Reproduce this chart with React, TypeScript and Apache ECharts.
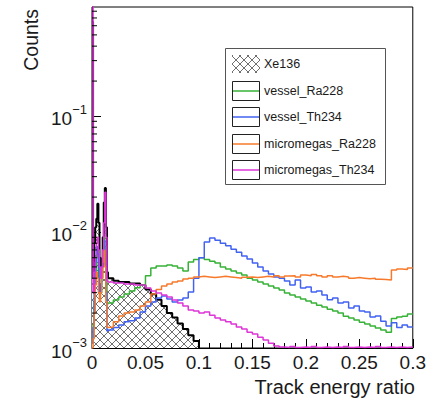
import React, { useEffect, useRef } from "react";
import * as echarts from "echarts";

// Left edges of the histogram bins (fine binning near zero, 0.005 beyond)
const binEdges = [
  0, 0.001, 0.002, 0.003, 0.004, 0.005, 0.006, 0.007, 0.008, 0.009, 0.01, 0.011, 0.012, 0.013, 0.014,
  0.015, 0.02, 0.025, 0.03, 0.035, 0.04, 0.045, 0.05, 0.055, 0.06, 0.065, 0.07, 0.075, 0.08, 0.085,
  0.09, 0.095, 0.1, 0.105, 0.11, 0.115, 0.12, 0.125, 0.13, 0.135, 0.14, 0.145, 0.15, 0.155, 0.16,
  0.165, 0.17, 0.175, 0.18, 0.185, 0.19, 0.195, 0.2, 0.205, 0.21, 0.215, 0.22, 0.225, 0.23, 0.235,
  0.24, 0.245, 0.25, 0.255, 0.26, 0.265, 0.27, 0.275, 0.28, 0.285, 0.29, 0.295,
];
const rangeEnd = 0.3;

const xe136 = [
  0.65, 0.004, 0.008, 0.011, 0.013, 0.0175, 0.012, 0.006, 0.0042, 0.005, 0.009, 0.018, 0.024, 0.011, 0.0045,
  0.004, 0.0038, 0.0037, 0.0037, 0.0036, 0.0036, 0.0035, 0.0032, 0.0029, 0.0026, 0.0023, 0.002, 0.00183,
  0.00163, 0.00146, 0.00129, 0.00115,
];
const xe136End = 0.1;
const xe136Empty = 0.0009;

const vesselRa228 = [
  0.0011, 0.0016, 0.0025, 0.004, 0.006, 0.0068, 0.005, 0.0035, 0.003, 0.004, 0.006, 0.009, 0.0075, 0.004, 0.0024,
  0.00244, 0.00259, 0.00275, 0.00292, 0.0031, 0.0033, 0.0035, 0.0042, 0.0049, 0.0051, 0.0051, 0.0052, 0.0051,
  0.0049, 0.0046, 0.0055, 0.0058, 0.006, 0.0058, 0.0056, 0.0054, 0.005, 0.0048, 0.0046, 0.00443, 0.00426,
  0.004, 0.00386, 0.00371, 0.00356, 0.00342, 0.00329, 0.00316, 0.00298, 0.00286, 0.00275, 0.00264, 0.00254,
  0.00244, 0.00234, 0.00226, 0.00216, 0.00208, 0.002, 0.00188, 0.00181, 0.00174, 0.00167, 0.00161, 0.00155,
  0.00149, 0.00143, 0.00137, 0.0018, 0.00185, 0.00188, 0.00196,
];

const vesselTh234 = [
  0.0011, 0.0015, 0.003, 0.0055, 0.0075, 0.0065, 0.004, 0.003, 0.0035, 0.005, 0.007, 0.0085, 0.006, 0.003, 0.0014,
  0.00143, 0.0015, 0.00158, 0.00168, 0.00172, 0.00181, 0.00204, 0.0023, 0.00249, 0.0027, 0.00281, 0.00264,
  0.00249, 0.00259, 0.0027, 0.00304, 0.004, 0.006, 0.0082, 0.00887, 0.0085, 0.008, 0.0076, 0.0071, 0.0067,
  0.0062, 0.00585, 0.0054, 0.005, 0.0046, 0.00434, 0.0041, 0.004, 0.00378, 0.00349, 0.00385, 0.00329,
  0.00336, 0.00304, 0.0031, 0.00286, 0.0026, 0.0027, 0.00244, 0.00249, 0.00221, 0.0023, 0.00208, 0.00204,
  0.00185, 0.00189, 0.0017, 0.00155, 0.00165, 0.0015, 0.00158, 0.00152,
];

const micromegasRa228 = [
  0.001, 0.0012, 0.002, 0.0035, 0.0045, 0.004, 0.003, 0.0025, 0.003, 0.004, 0.0055, 0.007, 0.005, 0.0025, 0.0015,
  0.00152, 0.00168, 0.00189, 0.002, 0.00204, 0.00213, 0.0023, 0.00249, 0.00292, 0.0032, 0.00342, 0.00356,
  0.0037, 0.00378, 0.00393, 0.004, 0.0041, 0.00415, 0.0041, 0.00405, 0.0041, 0.00415, 0.0041, 0.00405,
  0.004, 0.00408, 0.0041, 0.00405, 0.0041, 0.00415, 0.0041, 0.0042, 0.0041, 0.00418, 0.0042, 0.0041,
  0.00425, 0.0042, 0.0043, 0.0042, 0.0041, 0.0042, 0.0041, 0.00415, 0.0041, 0.004, 0.00405, 0.004,
  0.00395, 0.004, 0.00392, 0.0039, 0.00385, 0.0047, 0.0048, 0.00475, 0.0049,
];

const micromegasTh234 = [
  1.5, 0.003, 0.0045, 0.006, 0.008, 0.009, 0.007, 0.005, 0.004, 0.005, 0.007, 0.012, 0.022, 0.009, 0.0038,
  0.0037, 0.00363, 0.00363, 0.00356, 0.00356, 0.00349, 0.00349, 0.00329, 0.0031, 0.00298, 0.00286, 0.00275,
  0.00259, 0.00244, 0.0023, 0.00213, 0.00208, 0.002, 0.00204, 0.00192, 0.00181, 0.00174, 0.00168, 0.00161,
  0.00152, 0.00146, 0.00137, 0.00132, 0.00124, 0.00117, 0.0011, 0.00104, 0.00102, 0.00101, 0.00103, 0.00101,
  0.00102, 0.00101, 0.00103, 0.00101, 0.00102, 0.00101, 0.00102, 0.00101, 0.00103, 0.00101, 0.00102,
  0.00101, 0.00102, 0.00101, 0.00103, 0.00101, 0.00102, 0.00101, 0.00102, 0.00101, 0.00102,
];

const seriesNames = ["Xe136", "vessel_Ra228", "vessel_Th234", "micromegas_Ra228", "micromegas_Th234"];
const seriesColors = ["#000000", "#36b236", "#4262f2", "#f77a2c", "#de34d8"];

const xTickLabels = ["0", "0.05", "0.1", "0.15", "0.2", "0.25", "0.3"];
const yTickExponents = [-3, -2, -1];
const yMin = 0.001;
const yMax = 0.87;

const FONT = "'Liberation Sans', Arial, Helvetica, sans-serif";
const TEXT = "#1a1a1a";

// minor log ticks at 2..9 x 10^n
const yMinorTicks: number[] = [];
for (const e of yTickExponents) {
  for (let m = 2; m <= 9; m++) {
    const v = m * Math.pow(10, e);
    if (v < yMax) yMinorTicks.push(v);
  }
}

function toSteps(values: number[], end: number, tail?: number) {
  const pts: number[][] = values.map((v, i) => [binEdges[i], v]);
  pts.push([end, tail !== undefined ? tail : values[values.length - 1]]);
  return pts;
}

function makeHatch() {
  const c = document.createElement("canvas");
  c.width = 8;
  c.height = 8;
  const g = c.getContext("2d")!;
  g.fillStyle = "#ffffff";
  g.fillRect(0, 0, 8, 8);
  g.strokeStyle = "#707070";
  g.lineWidth = 1;
  g.beginPath();
  g.moveTo(-1, -1);
  g.lineTo(9, 9);
  g.moveTo(9, -1);
  g.lineTo(-1, 9);
  g.stroke();
  return c;
}

export default function App() {
  const ref = useRef<HTMLDivElement>(null);

  useEffect(() => {
    document.body.style.margin = "0";
    if (!ref.current) return;
    const chart = echarts.init(ref.current, undefined, { renderer: "svg" });
    const hatch = makeHatch();

    const lineSeries = [vesselRa228, vesselTh234, micromegasRa228, micromegasTh234].map((vals, i) => ({
      type: "line",
      name: seriesNames[i + 1],
      data: toSteps(vals, rangeEnd),
      step: "end",
      showSymbol: false,
      symbol: "none",
      lineStyle: { color: seriesColors[i + 1], width: 1.5 },
      z: 3,
    }));

    const legendRows = [64, 91, 117, 144, 170];
    const legendGraphics: any[] = [
      {
        type: "rect",
        shape: { x: 225.5, y: 48.5, width: 160, height: 136 },
        style: { fill: "#fff", stroke: "#555", lineWidth: 1 },
      },
    ];
    seriesNames.forEach((name, i) => {
      const cy = legendRows[i];
      if (i === 0) {
        legendGraphics.push({
          type: "rect",
          shape: { x: 232, y: cy - 9, width: 28, height: 18 },
          style: { fill: { image: hatch, repeat: "repeat" }, stroke: null },
        });
      } else {
        legendGraphics.push({
          type: "rect",
          shape: { x: 232.5, y: cy - 9.5, width: 27, height: 19 },
          style: { fill: "#fff", stroke: "#222", lineWidth: 1 },
        });
        legendGraphics.push({
          type: "line",
          shape: { x1: 233, y1: cy, x2: 259, y2: cy },
          style: { stroke: seriesColors[i], lineWidth: 1.5 },
        });
      }
      legendGraphics.push({
        type: "text",
        x: 264,
        y: cy,
        style: { text: name, fontSize: 12.5, fontFamily: FONT, fill: TEXT, verticalAlign: "middle", align: "left" },
      });
    });

    chart.setOption({
      animation: false,
      backgroundColor: "#ffffff",
      grid: { left: 92, right: 14, top: 7, bottom: 56, show: true, borderColor: "#000", borderWidth: 1, backgroundColor: "transparent" },
      xAxis: {
        type: "value",
        min: 0,
        max: 0.3,
        interval: 0.05,
        axisLine: { show: true, lineStyle: { color: "#000", width: 1 } },
        axisTick: { show: true, inside: true, length: 9, lineStyle: { color: "#000" } },
        minorTick: { show: true, splitNumber: 5, length: 5, lineStyle: { color: "#000" } },
        splitLine: { show: false },
        axisLabel: {
          margin: 5,
          fontSize: 19,
          fontFamily: FONT,
          color: TEXT,
          formatter: (v: number) => xTickLabels[Math.round(v / 0.05)] ?? "",
        },
      },
      yAxis: {
        type: "log",
        logBase: 10,
        min: yMin,
        max: yMax,
        axisLine: { show: true, lineStyle: { color: "#000", width: 1 } },
        axisTick: { show: true, inside: true, length: 9, lineStyle: { color: "#000" } },
        splitLine: { show: false },
        axisLabel: {
          margin: 5,
          showMaxLabel: false,
          padding: [6, 0, 0, 0],
          formatter: (v: number) => {
            const l = Math.log10(v);
            const e = Math.round(l);
            if (Math.abs(l - e) > 1e-6 || !yTickExponents.includes(e)) return "";
            return `{b|10}{s|\u2212${-e}}`;
          },
          rich: {
            b: { fontSize: 19, fontFamily: FONT, color: TEXT },
            s: { fontSize: 13, fontFamily: FONT, color: TEXT, padding: [0, 0, 18, 0] },
          },
        },
      },
      graphic: [
        {
          type: "text",
          x: 31,
          y: 9,
          rotation: Math.PI / 2,
          style: { text: "Counts", fontSize: 19.5, fontFamily: FONT, fill: TEXT, align: "right", verticalAlign: "middle" },
        },
        {
          type: "text",
          x: 415,
          y: 387,
          style: { text: "Track energy ratio", fontSize: 20, fontFamily: FONT, fill: TEXT, align: "right", verticalAlign: "middle" },
        },
        ...legendGraphics,
      ],
      series: [
        {
          type: "line",
          name: seriesNames[0],
          data: toSteps(xe136, xe136End, xe136Empty),
          step: "end",
          showSymbol: false,
          symbol: "none",
          lineStyle: { color: seriesColors[0], width: 2 },
          areaStyle: { color: { image: hatch, repeat: "repeat" }, origin: "start", opacity: 1 },
          z: 2,
        },
        ...lineSeries,
        {
          type: "custom",
          silent: true,
          data: yMinorTicks.map((v) => [0, v]),
          renderItem: (_p: any, api: any) => {
            const pt = api.coord([api.value(0), api.value(1)]);
            return {
              type: "line",
              shape: { x1: pt[0], y1: pt[1], x2: pt[0] + 5, y2: pt[1] },
              style: { stroke: "#000", lineWidth: 1 },
            };
          },
          z: 5,
        },
      ],
    } as any);

    return () => chart.dispose();
  }, []);

  return <div ref={ref} style={{ width: 429, height: 404 }} />;
}
